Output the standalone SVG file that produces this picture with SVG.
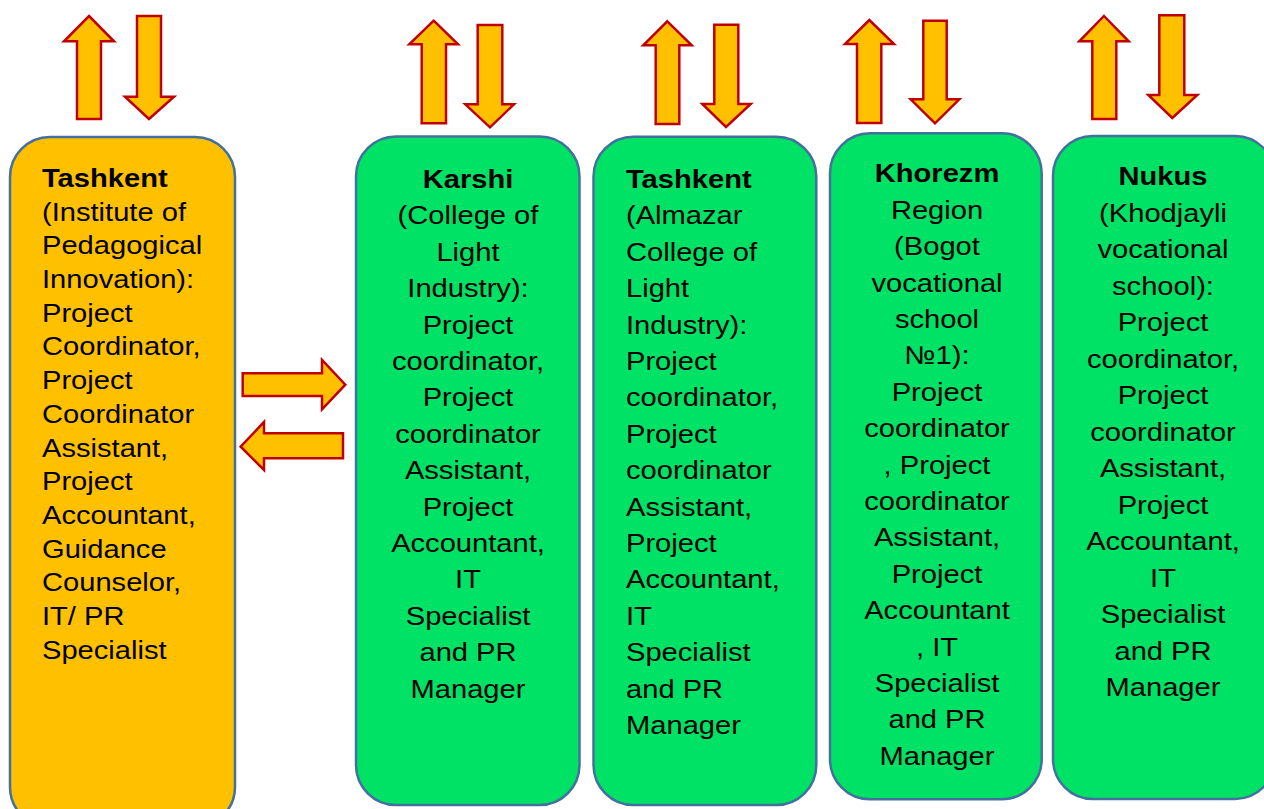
<svg xmlns="http://www.w3.org/2000/svg" width="1264" height="809" viewBox="0 0 1264 809">
  <style>
    .box { stroke: #41719C; stroke-width: 2.5; }
    .hub { fill: #FFC000; }
    .site { fill: #00E266; }
    .arrow { fill: #FFC000; stroke: #C00000; stroke-width: 2.5; stroke-linejoin: miter; }
    .lbl { font-family: "Liberation Sans", Arial, sans-serif; font-size: 26px; fill: #000; }
    .mid { text-anchor: middle; }
    .b { font-weight: bold; }
  </style>

  <rect width="1264" height="809" fill="#FFFFFF"/>

  <!-- connectors: block arrows -->
  <g id="connectors">
    <!-- Tashkent (institute) -->
    <polygon class="arrow" points="89,16 114,41.3 101,41.3 101,119 77,119 77,41.3 64,41.3"/>
    <polygon class="arrow" points="137,16 161,16 161,96.7 174,96.7 149,119 125,96.7 137,96.7"/>
    <!-- Karshi -->
    <polygon class="arrow" points="433.7,20.7 458,44.3 446,44.3 446,123.3 421.7,123.3 421.7,44.3 409.3,44.3"/>
    <polygon class="arrow" points="477.7,25 502.3,25 502.3,104.3 514,104.3 490,127.3 465.3,104.3 477.7,104.3"/>
    <!-- Tashkent (Almazar) -->
    <polygon class="arrow" points="667.3,21.3 691.7,45.3 679.3,45.3 679.3,124 655.7,124 655.7,45.3 643.3,45.3"/>
    <polygon class="arrow" points="714.3,24.7 738.3,24.7 738.3,104 750.7,104 726,127 702.3,104 714.3,104"/>
    <!-- Khorezm -->
    <polygon class="arrow" points="869.3,20 894,44 881.3,44 881.3,123 857,123 857,44 845,44"/>
    <polygon class="arrow" points="923.3,20.7 946.7,20.7 946.7,99.3 959.3,99.3 935,123.3 910.7,99.3 923.3,99.3"/>
    <!-- Nukus -->
    <polygon class="arrow" points="1104,16 1128.7,41.3 1116.3,41.3 1116.3,119 1092.3,119 1092.3,41.3 1079.3,41.3"/>
    <polygon class="arrow" points="1159.3,15.3 1184.3,15.3 1184.3,95 1197.3,95 1172.3,118 1148.3,95 1159.3,95"/>
    <!-- hub to Karshi, both ways -->
    <polygon class="arrow" points="242.7,373.3 322,373.3 322,360 345.3,384.7 322,409.3 322,396 242.7,396"/>
    <polygon class="arrow" points="240.7,446.7 264,422 264,433.3 343,433.3 343,458.3 264,458.3 264,470"/>
  </g>

  <!-- Tashkent: Institute of Pedagogical Innovation -->
  <g id="node-tashkent-institute">
    <rect class="box hub" x="10" y="137" width="225" height="690" rx="40" ry="40"/>
    <g class="lbl" transform="translate(42,0) scale(1.12,1)">
      <text x="0" y="187" class="b">Tashkent</text>
      <text x="0" y="220.7">(Institute of</text>
      <text x="0" y="254.4">Pedagogical</text>
      <text x="0" y="288.1">Innovation):</text>
      <text x="0" y="321.8">Project</text>
      <text x="0" y="355.5">Coordinator,</text>
      <text x="0" y="389.2">Project</text>
      <text x="0" y="422.9">Coordinator</text>
      <text x="0" y="456.6">Assistant,</text>
      <text x="0" y="490.3">Project</text>
      <text x="0" y="524">Accountant,</text>
      <text x="0" y="557.7">Guidance</text>
      <text x="0" y="591.4">Counselor,</text>
      <text x="0" y="625.1">IT/ PR</text>
      <text x="0" y="658.8">Specialist</text>
    </g>
  </g>

  <!-- Karshi: College of Light Industry -->
  <g id="node-karshi">
    <rect class="box site" x="356" y="136.5" width="223.5" height="668.5" rx="40" ry="40"/>
    <g class="lbl mid" transform="translate(468,0) scale(1.12,1)">
      <text x="0" y="188" class="b">Karshi</text>
      <text x="0" y="224.4">(College of</text>
      <text x="0" y="260.8">Light</text>
      <text x="0" y="297.2">Industry):</text>
      <text x="0" y="333.6">Project</text>
      <text x="0" y="370">coordinator,</text>
      <text x="0" y="406.4">Project</text>
      <text x="0" y="442.8">coordinator</text>
      <text x="0" y="479.2">Assistant,</text>
      <text x="0" y="515.6">Project</text>
      <text x="0" y="552">Accountant,</text>
      <text x="0" y="588.4">IT</text>
      <text x="0" y="624.8">Specialist</text>
      <text x="0" y="661.2">and PR</text>
      <text x="0" y="697.6">Manager</text>
    </g>
  </g>

  <!-- Tashkent: Almazar College of Light Industry -->
  <g id="node-tashkent-almazar">
    <rect class="box site" x="593.5" y="136.7" width="222.8" height="668.3" rx="40" ry="40"/>
    <g class="lbl" transform="translate(626,0) scale(1.12,1)">
      <text x="0" y="188" class="b">Tashkent</text>
      <text x="0" y="224.4">(Almazar</text>
      <text x="0" y="260.8">College of</text>
      <text x="0" y="297.2">Light</text>
      <text x="0" y="333.6">Industry):</text>
      <text x="0" y="370">Project</text>
      <text x="0" y="406.4">coordinator,</text>
      <text x="0" y="442.8">Project</text>
      <text x="0" y="479.2">coordinator</text>
      <text x="0" y="515.6">Assistant,</text>
      <text x="0" y="552">Project</text>
      <text x="0" y="588.4">Accountant,</text>
      <text x="0" y="624.8">IT</text>
      <text x="0" y="661.2">Specialist</text>
      <text x="0" y="697.6">and PR</text>
      <text x="0" y="734">Manager</text>
    </g>
  </g>

  <!-- Khorezm Region: Bogot vocational school No1 -->
  <g id="node-khorezm">
    <rect class="box site" x="830" y="133.3" width="211.7" height="666" rx="40" ry="40"/>
    <g class="lbl mid" transform="translate(937,0) scale(1.12,1)">
      <text x="0" y="182.5" class="b">Khorezm</text>
      <text x="0" y="218.9">Region</text>
      <text x="0" y="255.3">(Bogot</text>
      <text x="0" y="291.7">vocational</text>
      <text x="0" y="328.1">school</text>
      <text x="0" y="364.5">№1):</text>
      <text x="0" y="400.9">Project</text>
      <text x="0" y="437.3">coordinator</text>
      <text x="0" y="473.7">, Project</text>
      <text x="0" y="510.1">coordinator</text>
      <text x="0" y="546.5">Assistant,</text>
      <text x="0" y="582.9">Project</text>
      <text x="0" y="619.3">Accountant</text>
      <text x="0" y="655.7">, IT</text>
      <text x="0" y="692.1">Specialist</text>
      <text x="0" y="728.5">and PR</text>
      <text x="0" y="764.9">Manager</text>
    </g>
  </g>

  <!-- Nukus: Khodjayli vocational school -->
  <g id="node-nukus">
    <rect class="box site" x="1053" y="136" width="222" height="663" rx="40" ry="40"/>
    <g class="lbl mid" transform="translate(1163,0) scale(1.12,1)">
      <text x="0" y="185.2" class="b">Nukus</text>
      <text x="0" y="221.7">(Khodjayli</text>
      <text x="0" y="258.2">vocational</text>
      <text x="0" y="294.7">school):</text>
      <text x="0" y="331.2">Project</text>
      <text x="0" y="367.7">coordinator,</text>
      <text x="0" y="404.2">Project</text>
      <text x="0" y="440.7">coordinator</text>
      <text x="0" y="477.2">Assistant,</text>
      <text x="0" y="513.7">Project</text>
      <text x="0" y="550.2">Accountant,</text>
      <text x="0" y="586.7">IT</text>
      <text x="0" y="623.2">Specialist</text>
      <text x="0" y="659.7">and PR</text>
      <text x="0" y="696.2">Manager</text>
    </g>
  </g>
</svg>
